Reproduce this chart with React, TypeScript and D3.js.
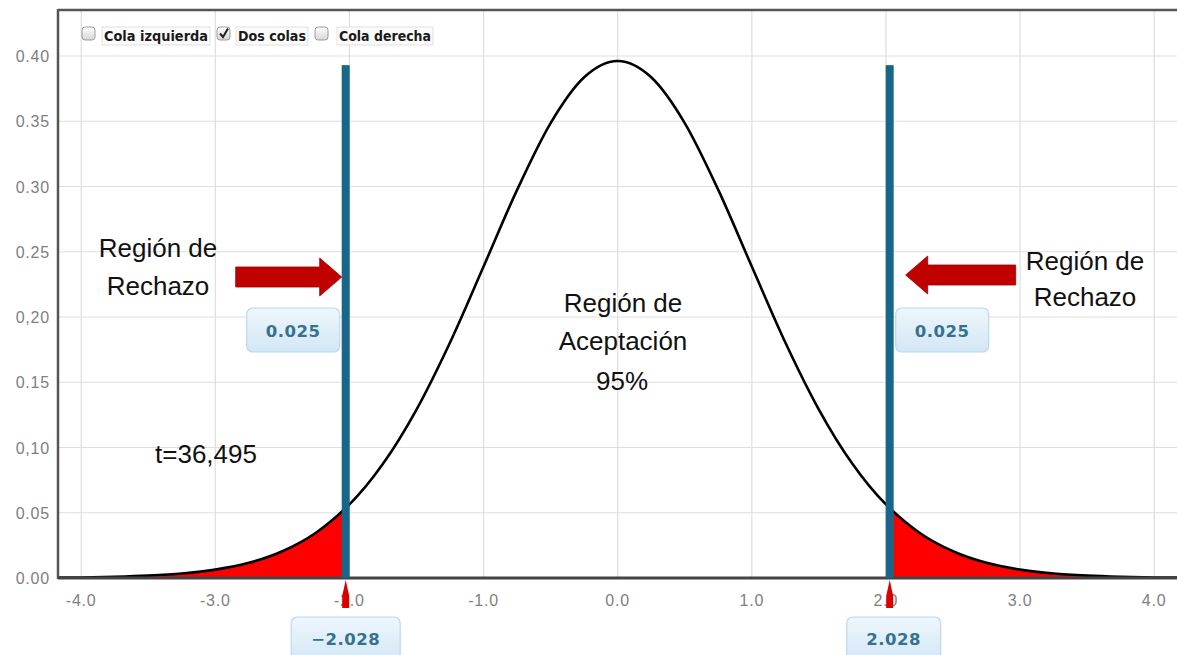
import React from "react";
import * as d3 from "d3";

// ---- Data ----
const xTicks = [-4, -3, -2, -1, 0, 1, 2, 3, 4];
const xTickLabels = ["-4.0", "-3.0", "-2.0", "-1.0", "0.0", "1.0", "2.0", "3.0", "4.0"];
const yTicks = [0, 0.05, 0.1, 0.15, 0.2, 0.25, 0.3, 0.35, 0.4];
const yTickLabels = ["0.00", "0.05", "0,10", "0.15", "0,20", "0.25", "0.30", "0.35", "0.40"];

// t-values and density of the drawn curve (t distribution, df ≈ 36)
const tPoints = [
  -4.25, -4, -3.75, -3.5, -3.25, -3, -2.75, -2.5, -2.25, -2.028, -2, -1.75, -1.5, -1.25, -1,
  -0.75, -0.5, -0.25, 0, 0.25, 0.5, 0.75, 1, 1.25, 1.5, 1.75, 2, 2.028, 2.25, 2.5, 2.75, 3,
  3.25, 3.5, 3.75, 4, 4.25,
];
const density = [
  0.0002, 0.0004, 0.0009, 0.0018, 0.0034, 0.0064, 0.0116, 0.0205, 0.0347, 0.0536, 0.0564,
  0.0875, 0.1291, 0.1805, 0.2387, 0.2974, 0.3486, 0.3837, 0.3962, 0.3837, 0.3486, 0.2974,
  0.2387, 0.1805, 0.1291, 0.0875, 0.0564, 0.0536, 0.0347, 0.0205, 0.0116, 0.0064, 0.0034,
  0.0018, 0.0009, 0.0004, 0.0002,
];

const criticalValues = [-2.028, 2.028];
const criticalLabels = ["\u22122.028", "2.028"];
const tailAreaLabels = ["0.025", "0.025"];
const barTop = 0.393;

const checkboxLabels = ["Cola izquierda", "Dos colas", "Cola derecha"];
const checkboxChecked = [false, true, false];

const W = 1177;
const H = 655;
const plotLeft = 58;
const plotTop = 10;
const plotBottom = 578;
const plotRight = 1181;

export default function App() {
  const x = d3.scaleLinear().domain([-4.173, 4.2]).range([plotLeft, plotRight]);
  const y = d3.scaleLinear().domain([0, 0.4]).range([plotBottom, 56]);

  const pts: [number, number][] = tPoints.map((t, i) => [t, density[i]]);
  const line = d3
    .line<[number, number]>()
    .x((d) => x(d[0]))
    .y((d) => y(d[1]))
    .curve(d3.curveMonotoneX);
  const area = d3
    .area<[number, number]>()
    .x((d) => x(d[0]))
    .y0(y(0))
    .y1((d) => y(d[1]))
    .curve(d3.curveMonotoneX);
  const leftTail = pts.filter((p) => p[0] <= criticalValues[0] + 1e-9);
  const rightTail = pts.filter((p) => p[0] >= criticalValues[1] - 1e-9);

  const sans = "'Liberation Sans', Arial, sans-serif";
  const boxFont = "'DejaVu Sans', Verdana, sans-serif";
  const arrowColor = "#c10000";
  const barColor = "#18678a";

  const xl = x(criticalValues[0]);
  const xr = x(criticalValues[1]);

  // checkbox legend layout
  const cbX = [82, 217, 315];
  const lblX = [102, 236, 337];
  const lblW = [108, 72, 96];

  return (
    <svg
      width={W}
      height={H}
      style={{ position: "absolute", left: 0, top: 0, display: "block", background: "#fff" }}
    >
      <defs>
        <clipPath id="plotClip">
          <rect x={plotLeft} y={plotTop} width={W - plotLeft} height={plotBottom - plotTop} />
        </clipPath>
        <linearGradient id="boxGrad" x1="0" y1="0" x2="0" y2="1">
          <stop offset="0" stopColor="#eef6fc" />
          <stop offset="1" stopColor="#d3e7f5" />
        </linearGradient>
        <linearGradient id="cbGrad" x1="0" y1="0" x2="0" y2="1">
          <stop offset="0" stopColor="#ffffff" />
          <stop offset="1" stopColor="#d6d6d6" />
        </linearGradient>
      </defs>

      <rect x={0} y={0} width={W} height={H} fill="#fff" />

      {/* grid */}
      <g>
        {yTicks.slice(1).map((t) => (
          <line key={"gy" + t} x1={plotLeft} x2={W} y1={y(t)} y2={y(t)} stroke="#dedede" strokeWidth={1.2} />
        ))}
        {xTicks.map((t) => (
          <line key={"gx" + t} x1={x(t)} x2={x(t)} y1={plotTop} y2={plotBottom} stroke="#dedede" strokeWidth={1.2} />
        ))}
      </g>

      {/* y labels */}
      {yTicks.map((t, i) => (
        <text
          key={"yl" + t}
          x={50}
          y={y(t) + 6}
          textAnchor="end"
          fontFamily={sans}
          fontSize={16}
          letterSpacing={0.8}
          fill="#808080"
        >
          {yTickLabels[i]}
        </text>
      ))}

      {/* x labels */}
      {xTicks.map((t, i) => (
        <text
          key={"xl" + t}
          x={x(t)}
          y={606}
          textAnchor="middle"
          fontFamily={sans}
          fontSize={16}
          letterSpacing={0.8}
          fill="#808080"
        >
          {xTickLabels[i]}
        </text>
      ))}

      {/* tails + curve */}
      <g clipPath="url(#plotClip)">
        <path d={area(leftTail) || ""} fill="#ff0000" />
        <path d={area(rightTail) || ""} fill="#ff0000" />
        <path d={line(pts) || ""} fill="none" stroke="#000" strokeWidth={2.6} />
      </g>

      {/* frame */}
      <line x1={plotLeft} x2={W} y1={plotTop} y2={plotTop} stroke="#555" strokeWidth={2.5} />
      <line x1={plotLeft} x2={plotLeft} y1={plotTop - 1} y2={plotBottom + 1} stroke="#555" strokeWidth={2.5} />
      <line x1={plotLeft} x2={W} y1={plotBottom} y2={plotBottom} stroke="#444" strokeWidth={3} />

      {/* critical bars */}
      {criticalValues.map((c) => (
        <rect key={"bar" + c} x={x(c) - 4} y={y(barTop)} width={8} height={y(0) - y(barTop)} fill={barColor} />
      ))}

      {/* red markers under the axis */}
      {criticalValues.map((c) => {
        const cx = x(c);
        return (
          <path
            key={"mk" + c}
            d={`M${cx},${580} L${cx + 3.5},${596} L${cx + 3.5},${608} L${cx - 3.5},${608} L${cx - 3.5},${596} Z`}
            fill="#d90000"
          />
        );
      })}

      {/* arrows */}
      <path
        d={`M${xl - 110},267 L${xl - 26},267 L${xl - 26},258 L${xl - 4},277 L${xl - 26},296 L${xl - 26},287 L${xl - 110},287 Z`}
        fill={arrowColor}
        stroke="#9a0000"
        strokeWidth={0.8}
      />
      <path
        d={`M${xr + 126},265 L${xr + 38},265 L${xr + 38},256 L${xr + 16},275 L${xr + 38},294 L${xr + 38},285 L${xr + 126},285 Z`}
        fill={arrowColor}
        stroke="#9a0000"
        strokeWidth={0.8}
      />

      {/* tail area label boxes */}
      {[
        { x0: xl - 4 - 2 - 93, label: tailAreaLabels[0] },
        { x0: xr + 4 + 2, label: tailAreaLabels[1] },
      ].map((b, i) => (
        <g key={"tb" + i}>
          <rect x={b.x0} y={308} width={93} height={44} rx={6} fill="url(#boxGrad)" stroke="#bcd8ec" strokeWidth={1.2} />
          <text
            x={b.x0 + 46.5}
            y={336.5}
            textAnchor="middle"
            fontFamily={boxFont}
            fontWeight="bold"
            fontSize={16.5}
            letterSpacing={0.5}
            fill="#34728f"
          >
            {b.label}
          </text>
        </g>
      ))}

      {/* critical value boxes */}
      {criticalValues.map((c, i) => {
        const w = i === 0 ? 109 : 94;
        const cx = x(c) + (i === 0 ? 0 : 4);
        return (
          <g key={"cb" + c}>
            <rect x={cx - w / 2} y={617} width={w} height={46} rx={6} fill="url(#boxGrad)" stroke="#bcd8ec" strokeWidth={1.2} />
            <text
              x={cx}
              y={644.5}
              textAnchor="middle"
              fontFamily={boxFont}
              fontWeight="bold"
              fontSize={16.5}
              letterSpacing={0.5}
              fill="#34728f"
            >
              {criticalLabels[i]}
            </text>
          </g>
        );
      })}

      {/* annotation texts */}
      <g fontFamily={sans} fontSize={26} fill="#111" textAnchor="middle">
        <text x={158} y={257}>Región de</text>
        <text x={158} y={295}>Rechazo</text>
        <text x={1085} y={270}>Región de</text>
        <text x={1085} y={306}>Rechazo</text>
        <text x={623} y={312}>Región de</text>
        <text x={623} y={350}>Aceptación</text>
        <text x={622} y={390}>95%</text>
        <text x={206} y={463}>t=36,495</text>
      </g>

      {/* checkbox legend */}
      {checkboxLabels.map((lab, i) => (
        <g key={"chk" + i}>
          <rect x={cbX[i]} y={27} width={13} height={13} rx={3} fill="url(#cbGrad)" stroke="#9c9c9c" strokeWidth={1} />
          {checkboxChecked[i] && (
            <path
              d={`M${cbX[i] + 3},${33.5} L${cbX[i] + 6},${37} L${cbX[i] + 11},${28.5}`}
              fill="none"
              stroke="#222"
              strokeWidth={2}
            />
          )}
          <rect x={lblX[i]} y={27} width={lblW[i]} height={18} fill="#fbfbfb" stroke="#dadada" strokeWidth={0.8} />
          <text
            x={lblX[i] + 2}
            y={41}
            fontFamily="'DejaVu Sans Condensed', 'DejaVu Sans', sans-serif"
            fontStretch="condensed"
            fontWeight="bold"
            fontSize={13.8}
            fill="#1a1a1a"
            textLength={lblW[i] - 4}
            lengthAdjust="spacingAndGlyphs"
          >
            {lab}
          </text>
        </g>
      ))}
    </svg>
  );
}
